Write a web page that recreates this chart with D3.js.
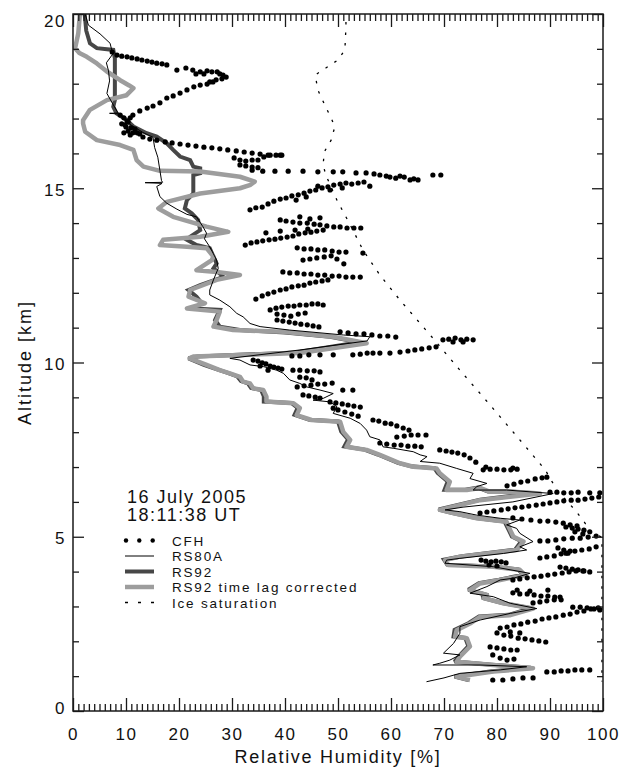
<!DOCTYPE html>
<html>
<head>
<meta charset="utf-8">
<script src="https://cdn.jsdelivr.net/npm/d3@7"></script>
<style>
  html, body { margin: 0; padding: 0; background: #fff; }
  svg { display: block; }
  text { font-family: "Liberation Sans", Arial, Helvetica, sans-serif; fill: #111; }
</style>
</head>
<body>
<svg id="chart" width="625" height="767"></svg>
<script>
// ---- Data: relative humidity [%] vs altitude [km], pairs are [RH, altitude] ----

// CFH frost point hygrometer samples
const cfhPoints = [
  [7.4,18.91],[8.3,18.82],[9.2,18.79],[10.2,18.77],[11.1,18.74],[12.1,18.71],[13.0,18.68],[14.0,18.65],[14.9,18.62],[15.8,18.59],[16.8,18.57],[17.7,18.54],
  [19.6,18.39],[21.3,18.45],[22.6,18.39],[24.0,18.34],[24.7,18.28],[25.3,18.37],[26.2,18.34],[27.2,18.34],[27.7,18.28],[28.3,18.25],[28.9,18.19],[28.1,18.14],[27.0,18.11],[25.8,18.05],[23.2,18.28],
  [26.4,18.05],[25.3,17.99],[24.0,17.96],[22.8,17.91],[21.5,17.82],[20.2,17.73],[18.9,17.65],[17.7,17.59],[16.4,17.45],[15.1,17.36],[14.0,17.30],[12.6,17.22],[11.3,17.10],[10.8,17.02],[10.2,16.93],[9.8,16.82],
  [8.9,17.10],[9.6,17.02],[10.4,16.90],[9.2,16.85],[10.0,16.76],[10.9,16.73],[11.7,16.70],[10.4,16.64],[11.3,16.59],[12.1,16.59],[9.6,16.59],[10.8,16.53],[12.6,16.56],
  [13.2,16.47],[14.5,16.41],[15.8,16.38],[17.4,16.33],[18.7,16.30],[20.2,16.27],[21.7,16.24],[23.2,16.21],[24.7,16.18],[26.2,16.16],[27.7,16.13],[29.2,16.10],[30.8,16.07],[32.3,16.04],[33.8,16.01],[35.3,15.98],[36.8,15.95],[39.1,15.95],
  [30.4,15.87],[31.5,15.81],[32.6,15.78],[33.8,15.81],[34.9,15.81],[36.0,15.90],[37.2,15.95],[38.3,15.95],[39.4,15.95],[31.5,15.67],[32.6,15.64],[33.8,15.61],[34.9,15.59],[33.8,15.52],[35.8,15.49],[38.1,15.49],[40.6,15.49],[43.4,15.49],
  [46.2,15.47],[49.1,15.47],[50.9,15.47],[53.4,15.44],[55.3,15.44],[56.8,15.41],[57.9,15.38],[59.1,15.35],[59.8,15.32],[60.9,15.29],[61.7,15.35],[62.5,15.32],[63.6,15.24],[64.3,15.27],[65.1,15.24],[67.9,15.38],[69.4,15.38],
  [33.4,14.38],[34.5,14.44],[35.7,14.46],[36.8,14.55],[37.9,14.63],[39.1,14.69],[40.2,14.72],[41.3,14.78],[42.5,14.81],[43.6,14.86],[44.7,14.92],[45.8,14.95],[47.0,15.01],[48.1,15.04],[49.2,15.09],[50.4,15.12],[51.5,15.15],[52.6,15.12],[53.8,15.15],[54.9,15.18],[56.0,15.06],[46.2,15.06],[48.5,14.95],[50.8,15.01],[44.0,14.75],[42.1,14.66],
  [39.1,14.09],[40.2,14.06],[41.5,14.03],[42.8,14.00],[44.2,14.00],[45.5,13.97],[46.6,13.95],[47.9,13.92],[49.2,13.89],[50.4,13.89],[51.7,13.86],[53.0,13.86],[54.3,13.86],[42.8,14.18],[44.7,14.12],[46.6,14.15],
  [32.5,13.37],[33.6,13.43],[34.7,13.46],[35.8,13.49],[37.0,13.52],[38.1,13.54],[39.2,13.57],[40.4,13.60],[41.5,13.63],[42.6,13.69],[43.8,13.72],[44.9,13.74],[46.0,13.77],[47.2,13.80],[36.4,13.72],[39.1,13.77],[41.9,13.80],[44.3,13.83],
  [42.3,13.29],[43.6,13.26],[44.9,13.26],[46.2,13.23],[47.5,13.23],[48.9,13.20],[50.2,13.17],[51.5,13.17],[54.7,13.14],
  [43.4,12.94],[44.7,12.97],[46.0,13.00],[47.4,13.03],[48.7,13.06],[49.8,12.97],[51.1,12.83],
  [39.6,12.60],[40.9,12.57],[42.3,12.57],[43.6,12.54],[44.9,12.54],[46.2,12.51],[47.5,12.51],[48.9,12.48],[50.2,12.48],[51.5,12.45],[52.8,12.45],[54.2,12.45],
  [34.5,11.82],[35.7,11.91],[36.8,11.97],[37.9,12.02],[39.1,12.08],[40.2,12.11],[41.3,12.17],[42.5,12.20],[43.6,12.22],[44.7,12.28],[45.8,12.31],[47.0,12.34],[48.1,12.37],
  [37.2,11.51],[38.3,11.56],[39.4,11.59],[40.6,11.62],[41.7,11.62],[42.8,11.65],[44.0,11.65],[45.1,11.68],[46.2,11.68],[47.2,11.65],[38.5,11.39],[39.8,11.36],[41.1,11.33],[42.5,11.39],[43.8,11.42],
  [38.5,11.22],[39.6,11.19],[40.8,11.16],[41.9,11.13],[43.0,11.10],[44.2,11.08],[45.3,11.05],[46.4,11.02],
  [50.4,10.88],[51.9,10.85],[53.4,10.82],[54.9,10.82],[56.4,10.79],[57.9,10.76],[59.4,10.76],[60.9,10.73],
  [69.8,10.65],[70.9,10.67],[72.1,10.70],[73.2,10.65],[74.3,10.67],[75.5,10.65],[71.7,10.59],[73.6,10.59],
  [41.3,10.19],[42.8,10.19],[44.5,10.22],[46.6,10.22],[49.1,10.22],[52.8,10.22],[54.2,10.24],[55.5,10.27],[56.6,10.27],[57.9,10.27],[59.8,10.27],[61.7,10.30],[63.2,10.33],[64.5,10.36],[65.8,10.39],[67.2,10.42],[68.5,10.45],
  [34.0,10.07],[34.9,10.04],[35.7,9.99],[36.4,9.96],[37.2,9.90],[37.9,9.87],[38.7,9.84],[39.4,9.81],[35.3,9.90],[36.8,9.78],[41.5,9.78],[42.8,9.78],[44.2,9.76],[45.5,9.76],[46.6,9.73],
  [42.8,9.58],[44.0,9.56],[45.1,9.50],[42.3,9.30],[43.6,9.33],[44.9,9.35],[46.2,9.38],[47.5,9.38],[48.9,9.41],[50.9,9.21],[52.8,9.21],
  [43.4,9.07],[44.5,9.04],[45.7,9.01],[46.6,8.98],
  [48.5,8.87],[49.6,8.84],[50.8,8.81],[51.9,8.78],[53.0,8.75],[54.2,8.72],[50.0,8.64],[51.3,8.58],[52.6,8.52],[53.8,8.46],[49.1,8.69],
  [56.6,8.35],[57.7,8.32],[58.9,8.26],[60.0,8.24],[61.1,8.18],[62.3,8.12],[63.4,8.06],[61.1,7.86],[62.5,7.89],[63.8,7.92],[65.1,7.92],[66.6,7.92],
  [57.9,7.69],[59.2,7.66],[60.6,7.63],[61.9,7.63],[63.2,7.60],[64.5,7.60],[65.7,7.58],
  [69.2,7.49],[70.4,7.46],[71.5,7.43],[72.6,7.40],[73.8,7.35],[74.9,7.26],[76.0,7.14],
  [77.4,6.92],[78.7,6.94],[80.0,6.94],[81.3,6.92],[82.6,6.92],[83.8,6.94],[77.9,7.00],[83.0,6.97],
  [81.9,6.46],[83.2,6.51],[84.5,6.57],[85.8,6.60],[87.2,6.66],[88.5,6.69],[89.4,6.71],
  [90.0,6.28],[91.3,6.28],[92.6,6.26],[94.0,6.26],[95.3,6.28],[97.5,6.26],[99.4,6.26],
  [76.8,5.68],[78.1,5.71],[79.4,5.74],[80.8,5.77],[82.1,5.80],[83.4,5.83],[84.7,5.85],[86.0,5.88],[87.4,5.91],[88.7,5.94],[90.0,5.97],[91.3,6.00],[92.6,6.03],[94.0,6.05],[95.3,6.05],[96.6,6.08],[97.9,6.11],[99.2,6.14],
  [83.0,5.54],[84.7,5.51],[86.4,5.48],[88.1,5.45],[89.6,5.45],[91.1,5.42],[92.5,5.39],[93.8,5.34],[95.1,5.31],
  [93.0,5.28],[94.2,5.25],[95.3,5.22],[96.4,5.19],[97.5,5.14],[94.7,5.14],[96.2,5.08],
  [88.1,4.88],[89.6,4.88],[91.1,4.91],[92.6,4.94],[94.2,4.96],[95.7,4.96],[97.2,4.99],[98.7,5.02],[91.5,4.68],[92.6,4.62],[93.8,4.59],[93.0,4.53],
  [77.0,4.33],[77.9,4.30],[78.9,4.28],[79.8,4.30],[80.8,4.28],[81.7,4.25],[78.5,4.19],[80.0,4.16],
  [88.1,4.39],[89.4,4.42],[90.8,4.45],[92.1,4.51],[93.4,4.53],[94.7,4.59],[96.0,4.62],[97.4,4.65],[98.7,4.71],
  [91.9,4.13],[93.0,4.10],[94.2,4.07],[95.3,4.05],[96.4,4.02],[97.5,3.99],
  [83.0,3.76],[84.3,3.79],[85.7,3.82],[87.0,3.85],[88.3,3.87],[89.6,3.90],[90.9,3.93],[92.3,3.96],[93.6,3.99],[94.9,4.02],[96.2,4.02],
  [83.0,3.39],[84.3,3.36],[85.7,3.36],[87.0,3.33],[88.3,3.30],[89.6,3.30],[90.9,3.27],[91.9,3.27],[83.8,3.47],[86.2,3.44],[89.6,3.47],
  [86.8,3.10],[88.1,3.13],[89.4,3.16],[90.8,3.19],[92.1,3.19],
  [94.3,2.98],[95.7,2.98],[97.0,2.96],[98.3,2.93],[99.4,2.90],
  [80.6,2.38],[81.9,2.41],[83.2,2.47],[84.5,2.50],[85.8,2.55],[87.2,2.58],[88.5,2.64],[89.8,2.67],[91.1,2.70],[92.5,2.75],[93.8,2.78],[95.1,2.84],[96.4,2.87],[97.7,2.93],[99.1,2.96],
  [80.0,2.24],[81.3,2.18],[82.6,2.15],[84.0,2.09],[85.3,2.07],[86.6,2.04],[87.9,2.01],[89.2,1.98],[82.5,2.27],[84.3,2.24],
  [78.7,1.84],[80.0,1.81],[81.3,1.78],[82.6,1.75],[83.8,1.75],[79.2,1.61],[80.6,1.52],[81.9,1.46],[83.2,1.49],
  [89.4,1.12],[90.8,1.12],[92.1,1.15],[93.4,1.15],[94.7,1.18],[96.0,1.18],[97.5,1.18],
  [79.2,0.89],[81.1,0.89],[83.0,0.92],[84.9,0.95],[86.8,0.95]
];

// Vaisala RS80A profile
const rs80aPoints = [
  [2.3,20.0],[2.9,19.68],[5.1,19.43],[7.0,19.16],[7.3,18.97],[7.5,18.85],[6.3,18.60],[6.7,18.37],[6.9,18.08],[6.4,17.72],[7.5,17.42],[8.5,17.16],[6.9,17.15],[8.8,17.13],
  [10.7,16.84],[13.2,16.60],[15.1,16.46],[15.4,16.17],[16.0,15.89],[16.4,15.51],[16.7,15.22],[16.9,15.17],[13.6,15.16],[16.8,15.14],[15.8,15.05],[16.4,14.76],
  [17.7,14.57],[19.6,14.40],[21.5,14.25],[23.3,14.18],[24.5,13.90],[25.2,13.71],[24.8,13.55],[25.8,13.32],[27.1,12.94],[27.4,12.70],[26.5,12.37],[25.8,12.08],
  [25.8,11.94],[27.7,11.79],[29.6,11.60],[30.9,11.41],[32.1,11.31],[33.4,11.12],[35.3,11.03],[40.9,10.93],[51.0,10.79],[56.0,10.74],[55.5,10.62],[42.8,10.36],
  [29.6,10.12],[31.5,10.07],[33.4,9.93],[36.0,9.88],[38.4,9.78],[39.7,9.69],[40.9,9.50],[42.8,9.40],[44.1,9.30],[46.6,9.21],[49.1,9.11],[47.2,8.97],[45.3,8.92],
  [48.5,8.87],[49.8,8.73],[49.1,8.54],[52.3,8.40],[54.2,8.25],[55.4,8.06],[56.0,7.87],[57.9,7.78],[58.5,7.58],[60.4,7.54],[64.2,7.44],[65.5,7.35],[66.8,7.30],
  [65.5,7.16],[69.2,7.11],[72.4,6.96],[75.5,6.82],[74.9,6.67],[78.1,6.53],[76.2,6.44],[75.5,6.34],[81.8,6.34],[90.6,6.24],[83.0,6.00],[73.6,5.85],[70.2,5.77],
  [73.0,5.72],[76.2,5.62],[80.6,5.53],[84.3,5.48],[81.8,5.34],[83.7,5.24],[84.3,5.10],[86.8,4.86],[84.3,4.71],[85.6,4.62],[81.2,4.52],[73.0,4.38],[70.5,4.33],
  [70.2,4.24],[79.3,4.14],[86.2,3.95],[83.1,3.81],[80.6,3.76],[78.1,3.57],[74.9,3.38],[79.3,3.28],[82.5,3.09],[87.5,2.94],[82.5,2.80],[76.8,2.61],[73.0,2.42],
  [73.0,2.23],[71.8,1.94],[69.9,1.66],[73.0,1.61],[71.1,1.46],[69.2,1.37],[67.9,1.32],[76.8,1.32],[85.6,1.27],[80.6,1.18],[73.0,1.08],[70.0,0.95],[66.7,0.84]
];

// Vaisala RS92 profile
const rs92Points = [
  [2.2,20.0],[2.5,19.52],[3.2,19.16],[4.5,19.02],[7.6,18.97],[7.9,18.73],[7.9,17.53],[7.6,17.34],[8.2,17.15],[10.1,16.96],[11.4,16.77],[13.9,16.58],[15.8,16.48],
  [17.7,16.29],[18.9,16.10],[20.2,15.91],[22.1,15.81],[22.7,15.62],[24.0,15.57],[24.0,15.43],[22.7,15.38],[22.7,14.85],[21.5,14.66],[21.1,14.42],[22.4,14.28],
  [23.6,14.09],[24.0,13.80],[22.1,13.61],[21.5,13.52],[23.3,13.37],[25.8,13.28],[26.5,13.04],[27.1,12.84],[26.5,12.70],[28.4,12.46],[24.0,12.22],[21.8,12.08],
  [23.3,11.89],[24.3,11.70],[22.7,11.55],[27.7,11.51],[26.8,11.22],[27.7,11.03],[31.5,10.93],[40.0,10.86],[48.5,10.74],[54.0,10.58],[42.0,10.29],[23.5,10.17],
  [21.8,10.12],[24.7,9.93],[27.2,9.80],[29.2,9.70],[31.0,9.60],[31.7,9.47],[33.0,9.40],[33.6,9.27],[35.5,9.21],[36.0,9.03],[36.0,8.88],[41.2,8.84],[42.4,8.70],
  [41.8,8.50],[44.6,8.36],[50.0,8.31],[50.6,8.02],[51.9,7.79],[51.2,7.59],[55.0,7.50],[57.5,7.36],[61.3,7.12],[63.8,7.02],[68.2,6.97],[68.8,6.83],[70.7,6.59],
  [70.1,6.35],[74.0,6.35],[76.4,6.41],[78.3,6.30],[82.5,6.30],[87.0,6.25],[76.8,6.06],[69.0,5.78],[71.4,5.69],[76.0,5.54],[81.4,5.44],[82.2,5.20],[82.8,5.01],
  [84.6,4.87],[83.4,4.63],[73.4,4.44],[70.0,4.34],[70.6,4.20],[79.0,4.15],[84.0,4.06],[85.0,3.91],[80.4,3.77],[76.6,3.67],[74.6,3.48],[77.8,3.34],[77.2,3.25],
  [81.0,3.10],[86.4,2.95],[82.2,2.76],[76.6,2.71],[74.6,2.52],[72.0,2.33],[71.8,2.14],[74.0,2.10],[74.6,1.86],[72.8,1.57],[72.0,1.42],[79.0,1.33],[86.4,1.24],
  [79.0,1.14],[72.0,0.99],[74.6,0.89]
];

// RS92 with time lag correction applied
const rs92CorrPoints = [
  [1.3,20.0],[1.0,19.45],[0.4,19.02],[1.2,18.88],[2.6,18.77],[4.5,18.58],[6.4,18.35],[8.9,18.10],[10.6,17.95],[11.4,17.87],[10.1,17.67],[6.4,17.53],[3.2,17.25],
  [1.9,16.95],[1.9,16.86],[2.3,16.62],[4.5,16.38],[8.9,16.24],[11.4,16.10],[12.0,15.81],[13.3,15.62],[16.4,15.50],[24.0,15.48],[31.5,15.33],[34.3,15.19],
  [33.5,15.10],[31.5,15.00],[24.0,14.85],[17.7,14.61],[16.1,14.42],[18.9,14.18],[25.2,13.90],[29.3,13.75],[24.0,13.61],[17.0,13.52],[16.4,13.37],[21.5,13.32],
  [25.2,13.28],[26.5,13.04],[26.2,12.94],[23.3,12.65],[27.1,12.60],[31.5,12.51],[27.1,12.37],[22.1,12.08],[21.8,11.89],[24.9,11.70],[21.5,11.55],[27.7,11.46],
  [27.1,11.22],[26.5,11.03],[30.2,10.93],[39.7,10.88],[49.1,10.74],[55.4,10.55],[42.8,10.27],[22.7,10.17],[22.0,10.12],[25.2,9.93],[27.7,9.78],[29.6,9.69],
  [31.5,9.59],[32.1,9.45],[33.4,9.40],[34.0,9.26],[35.9,9.21],[36.5,9.02],[36.5,8.88],[41.6,8.83],[42.8,8.69],[42.2,8.49],[45.0,8.35],[50.4,8.30],[51.0,8.01],
  [52.3,7.78],[51.6,7.58],[55.4,7.49],[57.9,7.35],[61.7,7.11],[64.2,7.01],[68.6,6.96],[69.2,6.82],[71.1,6.58],[70.5,6.34],[74.3,6.34],[76.8,6.40],[78.7,6.29],
  [83.0,6.29],[88.1,6.24],[76.8,6.05],[69.2,5.77],[71.7,5.68],[76.2,5.53],[81.8,5.43],[82.5,5.19],[83.1,5.00],[85.0,4.86],[83.7,4.62],[73.0,4.43],[70.2,4.33],
  [70.8,4.19],[79.3,4.14],[84.3,4.05],[85.3,3.90],[80.6,3.76],[76.8,3.66],[74.9,3.47],[78.1,3.33],[77.5,3.24],[81.2,3.09],[86.8,2.94],[82.5,2.75],[76.8,2.70],
  [74.9,2.51],[72.4,2.32],[72.1,2.13],[74.3,2.09],[74.9,1.85],[73.0,1.56],[72.4,1.41],[79.3,1.32],[86.8,1.23],[79.3,1.13],[72.4,0.98],[74.9,0.89]
];

// Relative humidity at ice saturation
const iceSatPoints = [
  [51.5,19.77],[51.5,19.63],[51.3,18.97],[50.0,18.68],[47.7,18.45],[45.7,18.25],[46.2,17.82],[47.5,17.39],[48.7,17.02],[49.4,16.76],[48.7,16.38],[47.4,16.04],
  [47.2,15.67],[47.7,15.38],[49.8,14.66],[52.3,13.95],[54.7,13.23],[57.9,12.51],[61.7,11.79],[67.9,10.70],[73.0,9.78],[78.7,8.78],[84.3,7.78],[89.1,6.92],
  [91.3,6.34],[94.7,5.77],[96.2,5.48],[97.9,5.11],[99.8,4.99],[99.8,0.85]
];

const xTickValues = [0,10,20,30,40,50,60,70,80,90,100];
const xTickLabels = ["0","10","20","30","40","50","60","70","80","90","100"];
const yTickValues = [0,5,10,15,20];
const yTickLabels = ["0","5","10","15","20"];
const xTitle = "Relative Humidity [%]";
const yTitle = "Altitude [km]";
const dateLabel = "16 July 2005";
const timeLabel = "18:11:38 UT";
const seriesNames = ["CFH","RS80A","RS92","RS92 time lag corrected","Ice saturation"];

// ---- Layout ----
const W = 625, H = 767;
const plot = { left: 73, right: 603, top: 14, bottom: 711 };
const FONT = '"Liberation Sans", Arial, Helvetica, sans-serif';
const AXIS_COLOR = "#1a1a1a";

const x = d3.scaleLinear().domain([0, 100]).range([plot.left, plot.right]);
const y = d3.scaleLinear().domain([0, 20]).range([plot.bottom, plot.top]);

const svg = d3.select("#chart");
svg.append("rect").attr("width", W).attr("height", H).attr("fill", "#fff");

svg.append("defs").append("clipPath").attr("id", "plotClip")
  .append("rect")
  .attr("x", plot.left).attr("y", plot.top)
  .attr("width", plot.right - plot.left).attr("height", plot.bottom - plot.top);

const marks = svg.append("g").attr("clip-path", "url(#plotClip)");
const line = d3.line().x(d => x(d[0])).y(d => y(d[1]));

const styles = {
  rs92:   { stroke: "#474747", width: 4 },
  rs92c:  { stroke: "#9d9d9d", width: 4.5 },
  rs80a:  { stroke: "#000", width: 1 },
  ice:    { stroke: "#000", width: 1.3, dash: "2.5,8" }
};

marks.append("path").datum(rs92Points).attr("d", line)
  .attr("fill", "none").attr("stroke", styles.rs92.stroke).attr("stroke-width", styles.rs92.width)
  .attr("stroke-linejoin", "miter").attr("stroke-miterlimit", 2);
marks.append("path").datum(rs92CorrPoints).attr("d", line)
  .attr("fill", "none").attr("stroke", styles.rs92c.stroke).attr("stroke-width", styles.rs92c.width)
  .attr("stroke-linejoin", "round");
marks.append("path").datum(rs80aPoints).attr("d", line)
  .attr("fill", "none").attr("stroke", styles.rs80a.stroke).attr("stroke-width", styles.rs80a.width);
marks.append("path").datum(iceSatPoints).attr("d", line)
  .attr("fill", "none").attr("stroke", styles.ice.stroke).attr("stroke-width", styles.ice.width)
  .attr("stroke-dasharray", styles.ice.dash);
marks.selectAll("circle.cfh").data(cfhPoints).join("circle")
  .attr("class", "cfh")
  .attr("cx", d => x(d[0])).attr("cy", d => y(d[1]))
  .attr("r", 2.6).attr("fill", "#000");

// ---- Axes (ticks point into the plot on all four sides) ----
const xMinor = d3.range(0, 101, 1).filter(v => v % 10 !== 0);
const yMinor = d3.range(0, 21, 1).filter(v => v % 5 !== 0);

function tidy(sel) {
  sel.select(".domain").remove();
  sel.selectAll(".tick line").attr("stroke", AXIS_COLOR).attr("stroke-width", 1.3);
  sel.attr("font-family", FONT).attr("font-size", 17);
  sel.selectAll(".tick text").attr("fill", "#111").style("letter-spacing", "1.5px");
  return sel;
}

// bottom
svg.append("g").attr("transform", `translate(0,${plot.bottom})`)
  .call(d3.axisBottom(x).tickValues(xMinor).tickSizeInner(-7).tickSizeOuter(0).tickFormat(""))
  .call(tidy);
svg.append("g").attr("transform", `translate(0,${plot.bottom})`)
  .call(d3.axisBottom(x).tickValues(xTickValues).tickSizeInner(-13).tickSizeOuter(0)
    .tickPadding(17).tickFormat((d, i) => xTickLabels[i]))
  .call(tidy);
// top
svg.append("g").attr("transform", `translate(0,${plot.top})`)
  .call(d3.axisTop(x).tickValues(xMinor).tickSizeInner(-7).tickSizeOuter(0).tickFormat(""))
  .call(tidy);
svg.append("g").attr("transform", `translate(0,${plot.top})`)
  .call(d3.axisTop(x).tickValues(xTickValues).tickSizeInner(-13).tickSizeOuter(0).tickFormat(""))
  .call(tidy);
// left
svg.append("g").attr("transform", `translate(${plot.left},0)`)
  .call(d3.axisLeft(y).tickValues(yMinor).tickSizeInner(-6).tickSizeOuter(0).tickFormat(""))
  .call(tidy);
const yAxis = svg.append("g").attr("transform", `translate(${plot.left},0)`)
  .call(d3.axisLeft(y).tickValues(yTickValues).tickSizeInner(-11).tickSizeOuter(0)
    .tickPadding(7).tickFormat((d, i) => yTickLabels[i]))
  .call(tidy);
yAxis.selectAll(".tick text").attr("dy", d => d === 20 ? 12 : d === 0 ? 2 : 7);
// right
svg.append("g").attr("transform", `translate(${plot.right},0)`)
  .call(d3.axisRight(y).tickValues(yMinor).tickSizeInner(-6).tickSizeOuter(0).tickFormat(""))
  .call(tidy);
svg.append("g").attr("transform", `translate(${plot.right},0)`)
  .call(d3.axisRight(y).tickValues(yTickValues).tickSizeInner(-11).tickSizeOuter(0).tickFormat(""))
  .call(tidy);

// frame
svg.append("rect")
  .attr("x", plot.left).attr("y", plot.top)
  .attr("width", plot.right - plot.left).attr("height", plot.bottom - plot.top)
  .attr("fill", "none").attr("stroke", AXIS_COLOR).attr("stroke-width", 1.5);

// axis titles
svg.append("text")
  .attr("x", (plot.left + plot.right) / 2).attr("y", 763)
  .attr("text-anchor", "middle").attr("font-size", 18)
  .style("letter-spacing", "1.7px").text(xTitle);
svg.append("text")
  .attr("transform", `translate(31,${(plot.top + plot.bottom) / 2}) rotate(-90)`)
  .attr("text-anchor", "middle").attr("font-size", 18)
  .style("letter-spacing", "2px").text(yTitle);

// ---- Legend ----
const legend = svg.append("g");
legend.append("text").attr("x", 127).attr("y", 503).attr("font-size", 18)
  .style("letter-spacing", "1.5px").text(dateLabel);
legend.append("text").attr("x", 127).attr("y", 521).attr("font-size", 18)
  .style("letter-spacing", "1.5px").text(timeLabel);

const legX0 = 125, legX1 = 154, legTextX = 172;
const rowY = [540.5, 556, 571.5, 587, 602.5];

// CFH symbol: three dots
legend.selectAll("circle.leg").data([126, 139.3, 152.7]).join("circle")
  .attr("class", "leg").attr("cx", d => d).attr("cy", rowY[0]).attr("r", 2.2).attr("fill", "#000");
// line symbols
const legLines = [
  { row: 1, s: styles.rs80a },
  { row: 2, s: styles.rs92 },
  { row: 3, s: styles.rs92c },
  { row: 4, s: { stroke: "#000", width: 1.3, dash: "3,10" } }
];
legLines.forEach(l => {
  legend.append("line")
    .attr("x1", legX0).attr("x2", legX1)
    .attr("y1", rowY[l.row]).attr("y2", rowY[l.row])
    .attr("stroke", l.s.stroke).attr("stroke-width", l.s.width)
    .attr("stroke-dasharray", l.s.dash || null);
});
legend.selectAll("text.leg").data(seriesNames).join("text")
  .attr("class", "leg")
  .attr("x", legTextX).attr("y", (d, i) => rowY[i] + 5)
  .attr("font-size", 13.5).style("letter-spacing", "1.8px")
  .text(d => d);
</script>
</body>
</html>
